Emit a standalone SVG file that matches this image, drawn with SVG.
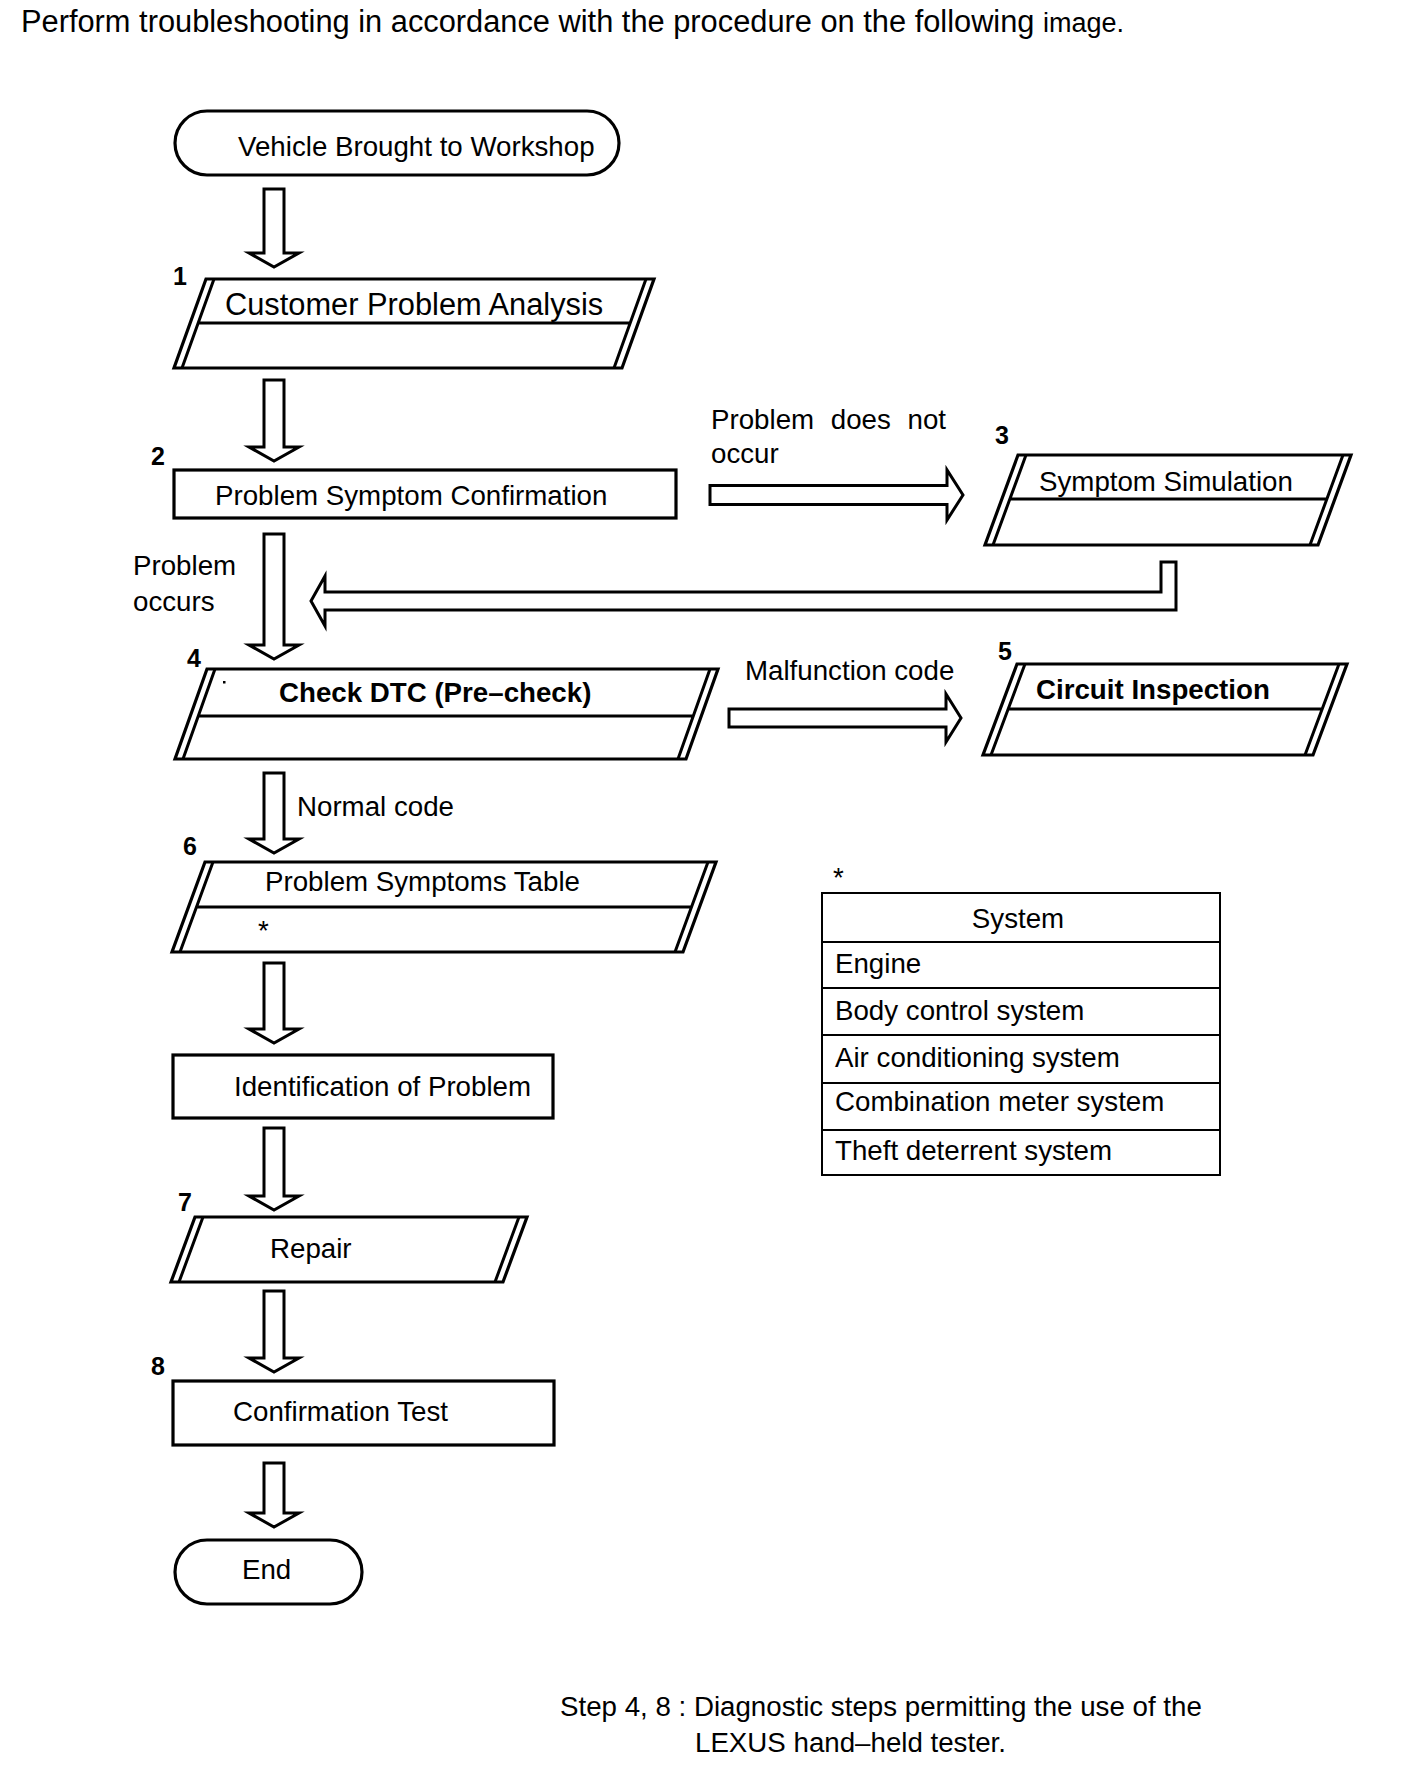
<svg xmlns="http://www.w3.org/2000/svg" width="1408" height="1792" viewBox="0 0 1408 1792">
<style>
text{font-family:"Liberation Sans",Arial,sans-serif;fill:#000}
.t{font-size:27.7px}
.b{font-size:27.7px;font-weight:bold}
.n{font-size:25px;font-weight:bold}
.o{fill:#fff;stroke:#000;stroke-width:3.2;stroke-linejoin:miter}
.l{fill:none;stroke:#000;stroke-width:3}
.a{fill:#fff;stroke:#000;stroke-width:3;stroke-linejoin:miter}
.tb{fill:none;stroke:#000;stroke-width:2}
</style>
<rect width="1408" height="1792" fill="#fff"/>
<text x="21" y="32" style="font-size:30.8px">Perform troubleshooting in accordance with the procedure on the following <tspan style="font-size:27px">image.</tspan></text>

<g id="connectors">
<path class="a" d="M264,189H284V253H299L274,267L249,253H264Z"/>
<path class="a" d="M264,380H284V447H299L274,461L249,447H264Z"/>
<path class="a" d="M264,534H284V645H299L274,659L249,645H264Z"/>
<path class="a" d="M264,773H284V839H299L274,853L249,839H264Z"/>
<path class="a" d="M264,963H284V1029H299L274,1043L249,1029H264Z"/>
<path class="a" d="M264,1128H284V1196H299L274,1210L249,1196H264Z"/>
<path class="a" d="M264,1291H284V1358H299L274,1372L249,1358H264Z"/>
<path class="a" d="M264,1463H284V1513H299L274,1527L249,1513H264Z"/>
<path class="a" d="M710,485.5H947V470L963,495L947,520V504.5H710Z"/>
<path class="a" d="M729,709H946V694L961,718L946,742V727H729Z"/>
<path class="a" d="M1161,562H1176V610H325V626L311,601L325,576V592H1161Z"/>
<text class="t" x="711" y="429" word-spacing="9">Problem does not</text>
<text class="t" x="711" y="463">occur</text>
<text class="t" x="133" y="575">Problem</text>
<text class="t" x="133" y="611">occurs</text>
<text class="t" x="745" y="680">Malfunction code</text>
<text class="t" x="297" y="816">Normal code</text>
</g>

<g id="start">
<rect class="o" x="175" y="111" width="444" height="64" rx="32"/>
<text class="t" x="238" y="156">Vehicle Brought to Workshop</text>
</g>

<g id="step1">
<path class="o" d="M206,279H654L622,368H174Z"/>
<path class="l" d="M214,279L182,368M646,279L614,368M198,323H630"/>
<text class="n" x="173" y="285">1</text>
<text x="225" y="315" style="font-size:30.8px">Customer Problem Analysis</text>
</g>

<g id="step2">
<rect class="o" x="174" y="470" width="502" height="48"/>
<text class="n" x="151" y="465">2</text>
<text class="t" x="215" y="505">Problem Symptom Confirmation</text>
</g>

<g id="step3">
<path class="o" d="M1018,455H1351L1318,545H985Z"/>
<path class="l" d="M1026,455L993,545M1343,455L1310,545M1010,499H1327"/>
<text class="n" x="995" y="444">3</text>
<text class="t" x="1039" y="491">Symptom Simulation</text>
</g>

<g id="step4">
<path class="o" d="M207,669H718L686,759H175Z"/>
<path class="l" d="M215,669L183,759M710,669L678,759M198,716H693"/>
<rect x="223" y="681" width="2.5" height="2.5" fill="#000"/>
<text class="n" x="187" y="667">4</text>
<text class="b" x="279" y="702">Check DTC (Pre–check)</text>
</g>

<g id="step5">
<path class="o" d="M1017,664H1347L1313,755H983Z"/>
<path class="l" d="M1025,664L991,755M1339,664L1305,755M1008,709H1322"/>
<text class="n" x="998" y="660">5</text>
<text class="b" x="1036" y="699">Circuit Inspection</text>
</g>

<g id="step6">
<path class="o" d="M205,862H716L683,952H172Z"/>
<path class="l" d="M213,862L180,952M708,862L675,952M196.5,907H691.5"/>
<text class="n" x="183" y="855">6</text>
<text class="t" x="265" y="891">Problem Symptoms Table</text>
<text class="t" x="258" y="940">*</text>
</g>

<g id="identification">
<rect class="o" x="173" y="1055" width="380" height="63"/>
<text class="t" x="234" y="1096">Identification of Problem</text>
</g>

<g id="step7">
<path class="o" d="M195,1217H527L503,1282H171Z"/>
<path class="l" d="M203,1217L179,1282M519,1217L495,1282"/>
<text class="n" x="178" y="1211">7</text>
<text class="t" x="270" y="1258">Repair</text>
</g>

<g id="step8">
<rect class="o" x="173" y="1381" width="381" height="64"/>
<text class="n" x="151" y="1375">8</text>
<text class="t" x="233" y="1421">Confirmation Test</text>
</g>

<g id="end">
<rect class="o" x="175" y="1540" width="187" height="64" rx="32"/>
<text class="t" x="242" y="1579">End</text>
</g>

<g id="system-table">
<text class="t" x="833" y="887">*</text>
<rect class="tb" x="822" y="893" width="398" height="282"/>
<path class="tb" d="M822,942H1220M822,988H1220M822,1035H1220M822,1083H1220M822,1130H1220"/>
<text class="t" x="1018" y="928" text-anchor="middle">System</text>
<text class="t" x="835" y="973">Engine</text>
<text class="t" x="835" y="1019.5">Body control system</text>
<text class="t" x="835" y="1066.5">Air conditioning system</text>
<text class="t" x="835" y="1111">Combination meter system</text>
<text class="t" x="835" y="1160">Theft deterrent system</text>
</g>

<g id="note">
<text class="t" x="560" y="1716">Step 4, 8 : Diagnostic steps permitting the use of the</text>
<text class="t" x="695" y="1752">LEXUS hand–held tester.</text>
</g>
</svg>
